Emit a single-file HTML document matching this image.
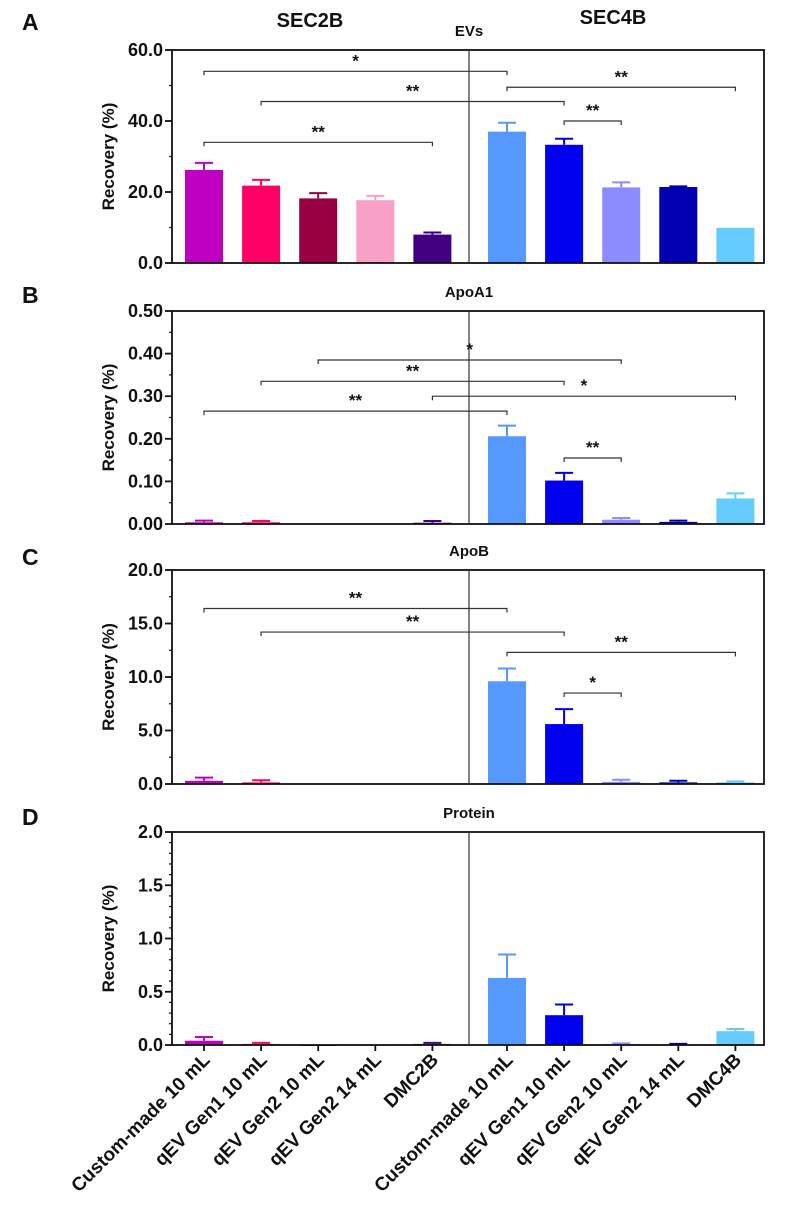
<!DOCTYPE html>
<html><head><meta charset="utf-8"><style>
body{margin:0;background:#fff;}
svg{display:block;font-family:"Liberation Sans",Arial,sans-serif;}
text{font-weight:bold;fill:#111;}
</style></head><body>
<svg id="chart" width="787" height="1220" viewBox="0 0 787 1220"></svg>
<script>
const categories=["Custom-made 10 mL","qEV Gen1 10 mL","qEV Gen2 10 mL","qEV Gen2 14 mL","DMC2B","Custom-made 10 mL","qEV Gen1 10 mL","qEV Gen2 10 mL","qEV Gen2 14 mL","DMC4B"];
const colors=["#c000c0","#ff0066","#990044","#f8a0c8","#400080","#5599ff","#0000ee","#8c8cff","#0000b0","#66ccff"];
const evMean=[26.2,21.8,18.2,17.7,8.0,37.0,33.3,21.3,21.4,9.9];
const evErr=[2.0,1.6,1.5,1.2,0.6,2.5,1.7,1.4,0.2,0];
const apoA1Mean=[0.004,0.004,0.001,0.001,0.003,0.206,0.102,0.010,0.005,0.060];
const apoA1Err=[0.004,0.003,0.0,0.0,0.004,0.025,0.018,0.004,0.003,0.012];
const apoBMean=[0.3,0.15,0.05,0.05,0.05,9.6,5.6,0.2,0.15,0.15];
const apoBErr=[0.3,0.2,0,0,0,1.2,1.4,0.2,0.15,0.1];
const protMean=[0.04,0.01,0,0,0.01,0.63,0.28,0.01,0.005,0.13];
const protErr=[0.035,0.01,0,0,0.01,0.22,0.1,0.005,0.005,0.02];
const evTicks=["0.0","20.0","40.0","60.0"];
const apoA1Ticks=["0.00","0.10","0.20","0.30","0.40","0.50"];
const apoBTicks=["0.0","5.0","10.0","15.0","20.0"];
const protTicks=["0.0","0.5","1.0","1.5","2.0"];
const evSig=[[0,5,"*",54],[1,6,"**",45.5],[0,4,"**",34],[5,9,"**",49.5],[6,7,"**",40]];
const apoA1Sig=[[2,7,"*",0.385],[1,6,"**",0.335],[4,9,"*",0.30],[0,5,"**",0.265],[6,7,"**",0.155]];
const apoBSig=[[0,5,"**",16.4],[1,6,"**",14.2],[5,9,"**",12.3],[6,7,"*",8.5]];
const protSig=[];

const svg=document.getElementById('chart');
const NS="http://www.w3.org/2000/svg";
function mk(tag,attrs,parent){const e=document.createElementNS(NS,tag);for(const k in attrs)e.setAttribute(k,attrs[k]);(parent||svg).appendChild(e);return e;}
const L=172,R=764,DIV=469;
function xPos(i){return i<5?204+i*57.1:507+(i-5)*57.1;}

const panels=[
 {id:"evs",letter:"A",title:"EVs",top:50,bot:263,max:60,ticks:evTicks,minor:10,mean:evMean,err:evErr,sig:evSig,ly:20},
 {id:"apoa1",letter:"B",title:"ApoA1",top:311,bot:524,max:0.5,ticks:apoA1Ticks,minor:0.05,mean:apoA1Mean,err:apoA1Err,sig:apoA1Sig,ly:293},
 {id:"apob",letter:"C",title:"ApoB",top:570,bot:784,max:20,ticks:apoBTicks,minor:2.5,mean:apoBMean,err:apoBErr,sig:apoBSig,ly:555},
 {id:"protein",letter:"D",title:"Protein",top:832,bot:1045,max:2,ticks:protTicks,minor:0.1,mean:protMean,err:protErr,sig:protSig,ly:815}
];
panels.forEach(p=>{
 const g=mk('g',{});
 
 
 const y=v=>p.bot-(v/p.max)*(p.bot-p.top);
 const lt=mk('text',{x:22,y:p.ly+10,'font-size':23},g);lt.textContent=p.letter;
 
 const tt=mk('text',{x:DIV,y:p.top-14,'font-size':15,'text-anchor':'middle'},g);tt.textContent=p.title;
 
 p.mean.forEach((m,i)=>{
  const cx=xPos(i),w=38;
  const by=y(m),h=Math.max(p.bot-by,0);
  const b=mk('rect',{x:cx-w/2,y:by,width:w,height:Math.max(h,1),fill:colors[i]},g);
  
  if(p.err[i]>0){
   const ey=y(m+p.err[i]);
   const e=mk('path',{d:`M${cx},${by}V${ey}M${cx-9},${ey}H${cx+9}`,stroke:colors[i],'stroke-width':2,fill:'none'},g);
   
  }
 });
 mk('rect',{x:L,y:p.top,width:R-L,height:p.bot-p.top,fill:'none',stroke:'#111','stroke-width':1.8},g);
 mk('line',{x1:DIV,x2:DIV,y1:p.top,y2:p.bot,stroke:'#333','stroke-width':1.2},g);
 const nMinor=Math.round(p.max/p.minor);
 for(let k=0;k<=nMinor;k++){const yy=y(k*p.minor);mk('line',{x1:L-3,x2:L,y1:yy,y2:yy,stroke:'#111','stroke-width':1.2},g);}
 p.ticks.forEach((t,k)=>{
  const v=parseFloat(t),yy=y(v);
  mk('line',{x1:L-7,x2:L,y1:yy,y2:yy,stroke:'#111','stroke-width':1.8},g);
  const tx=mk('text',{x:L-9,y:yy+6,'font-size':18,'text-anchor':'end'},g);tx.textContent=t;
  
 });
 const yt=mk('text',{x:0,y:0,'font-size':17,'text-anchor':'middle',transform:`translate(114,${(p.top+p.bot)/2}) rotate(-90)`},g);
 yt.textContent="Recovery (%)";
 p.sig.forEach(s=>{
  const x1=xPos(s[0]),x2=xPos(s[1]),yy=y(s[3]);
  const br=mk('path',{d:`M${x1},${yy+4}V${yy}H${x2}V${yy+4}`,stroke:'#333','stroke-width':1.2,fill:'none'},g);
  
  const st=mk('text',{x:(x1+x2)/2,y:yy-5,'font-size':17,'text-anchor':'middle'},g);st.textContent=s[2];
  
 });
 if(p.id==="protein"){
  categories.forEach((c,i)=>{
   const cx=xPos(i);
   mk('line',{x1:cx,x2:cx,y1:p.bot,y2:p.bot+6,stroke:'#111','stroke-width':1.8},g);
   const t=mk('text',{x:0,y:0,'font-size':19,'text-anchor':'end',transform:`translate(${cx+7},${p.bot+16}) rotate(-45)`},g);
   t.textContent=c;
  });
 }
});
const g1=mk('text',{x:310,y:27,'font-size':20,'text-anchor':'middle'});g1.textContent="SEC2B";

const g2=mk('text',{x:613,y:24,'font-size':20,'text-anchor':'middle'});g2.textContent="SEC4B";

</script>
</body></html>
